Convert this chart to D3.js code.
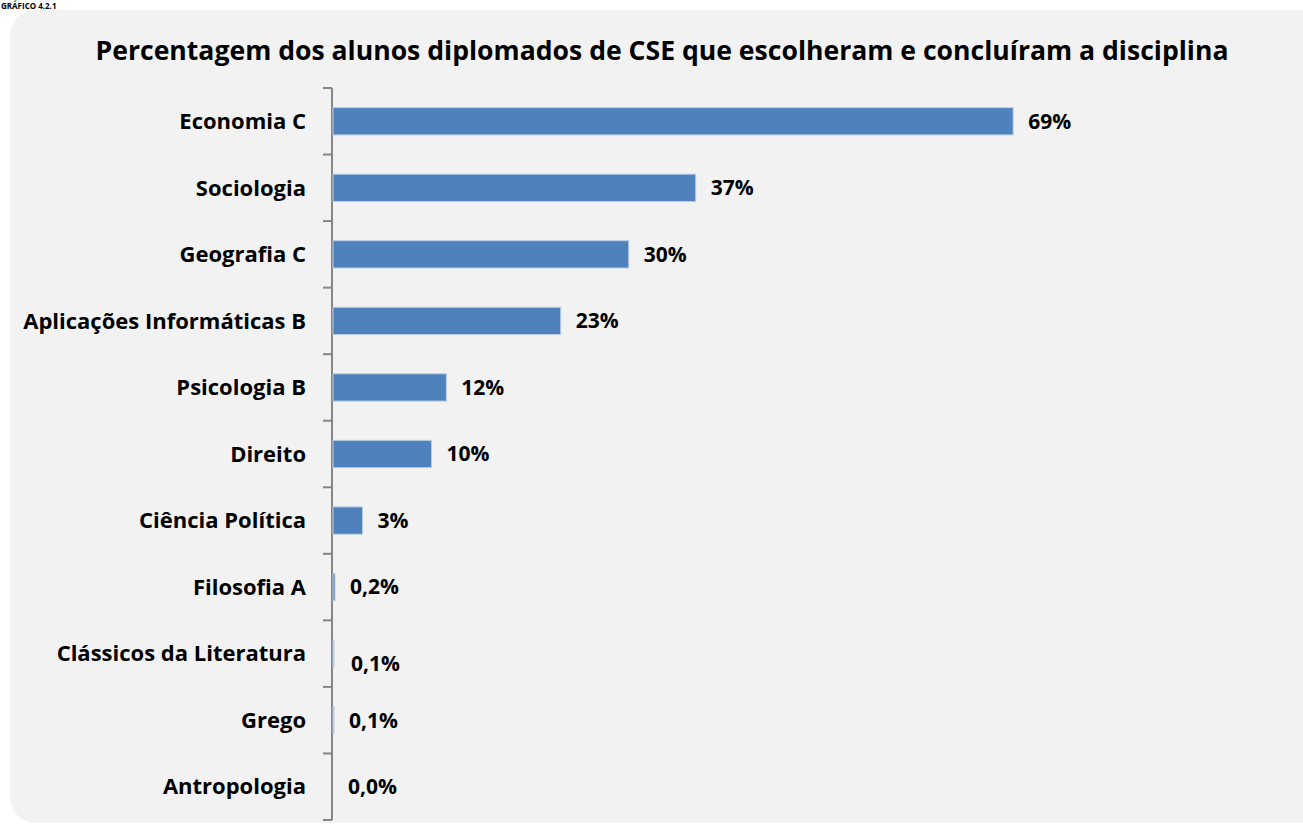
<!DOCTYPE html>
<html><head><meta charset="utf-8">
<script src="https://cdn.jsdelivr.net/npm/d3@7"></script>
<style>body{margin:0;background:#fff;overflow:hidden}svg{display:block}text{font-family:"Open Sans",Lato,sans-serif;font-weight:bold;fill:#000}</style>
</head><body>
<script>
const categories = ["Economia C","Sociologia","Geografia C","Aplicações Informáticas B","Psicologia B","Direito","Ciência Política","Filosofia A","Clássicos da Literatura","Grego","Antropologia"];
const values = [69, 36.8, 30, 23.1, 11.5, 10, 3, 0.2, 0.1, 0.1, 0.0];
const valueLabels = ["69%","37%","30%","23%","12%","10%","3%","0,2%","0,1%","0,1%","0,0%"];
const labelDy = [0,0,0,0,0,0,0,0,10,0,0];
const title = "Percentagem dos alunos diplomados de CSE que escolheram e concluíram a disciplina";

const W = 1303, H = 826;
const svg = d3.select("body").append("svg").attr("width", W).attr("height", H);

svg.append("text").attr("x", 1).attr("y", 9).style("font-size","8px").text("GRÁFICO 4.2.1");
svg.append("rect").attr("x", 10).attr("y", 10).attr("width", 1320).attr("height", 813)
  .attr("rx", 26).attr("fill", "#f2f2f2");

svg.append("text").attr("x", 662).attr("y", 60).attr("text-anchor","middle")
  .style("font-size","27px").attr("textLength", 1133).attr("lengthAdjust","spacingAndGlyphs").text(title);

const x = d3.scaleLinear().domain([0, 70]).range([333, 1023]);
const y = d3.scaleBand().domain(categories).range([88, 820]).paddingInner(0.59).paddingOuter(0.295);

// axis
const g = svg.append("g").attr("transform", "translate(332,0)");
const yb = d3.scaleBand().domain(categories).range([88, 820]);
g.append("line").attr("x1",0).attr("x2",0).attr("y1",88).attr("y2",820).attr("stroke","#868686").attr("stroke-width",2);
const tickYs = categories.map(c => yb(c)).concat([820]);
g.selectAll("line.tk").data(tickYs).join("line").attr("class","tk")
  .attr("x1",-9).attr("x2",0).attr("y1",d=>d).attr("y2",d=>d).attr("stroke","#868686").attr("stroke-width",2);

svg.selectAll("text.cat").data(categories).join("text").attr("class","cat")
  .attr("x", 306).attr("y", d => yb(d) + yb.bandwidth()/2).attr("dy","0.35em")
  .attr("text-anchor","end").style("font-size","22px").text(d => d);

svg.selectAll("rect.bar").data(values).join("rect").attr("class","bar")
  .attr("x", x(0)).attr("y", (d,i) => y(categories[i]))
  .attr("width", d => Math.max(0, x(d) - x(0))).attr("height", y.bandwidth())
  .attr("fill", "#4f81bd").attr("stroke", "#b9cde5").attr("stroke-width", 1);

svg.selectAll("text.val").data(values).join("text").attr("class","val")
  .attr("x", (d,i) => x(d) + 15 + (i===8?2:0)).attr("y", (d,i) => y(categories[i]) + y.bandwidth()/2 + labelDy[i])
  .attr("dy","0.35em").style("font-size","21px").text((d,i) => valueLabels[i]);
</script>
</body></html>
